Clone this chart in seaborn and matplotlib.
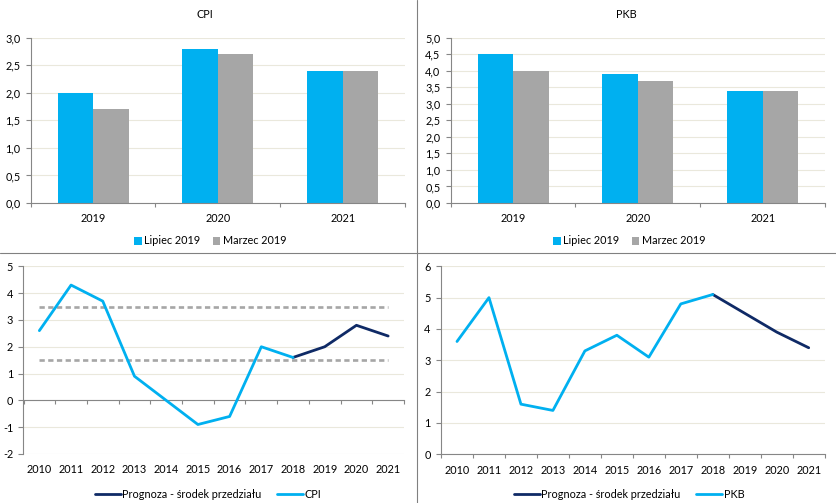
import matplotlib
matplotlib.use("Agg")
import matplotlib.pyplot as plt
from matplotlib.lines import Line2D
from matplotlib.ticker import FuncFormatter, FixedLocator
import seaborn as sns
import pandas as pd
import numpy as np

# ---------------- data ----------------
bar_years = ["2019", "2020", "2021"]
bar_series = ["Lipiec 2019", "Marzec 2019"]
cpi_lipiec = [2.0, 2.8, 2.4]
cpi_marzec = [1.7, 2.7, 2.4]
pkb_lipiec = [4.5, 3.9, 3.4]
pkb_marzec = [4.0, 3.7, 3.4]

hist_years = [2010, 2011, 2012, 2013, 2014, 2015, 2016, 2017, 2018]
cpi_hist = [2.6, 4.3, 3.7, 0.9, 0.0, -0.9, -0.6, 2.0, 1.6]
pkb_hist = [3.6, 5.0, 1.6, 1.4, 3.3, 3.8, 3.1, 4.8, 5.1]
fc_years = [2018, 2019, 2020, 2021]
cpi_fc = [1.6, 2.0, 2.8, 2.4]
pkb_fc = [5.1, 4.5, 3.9, 3.4]
all_years = [2010, 2011, 2012, 2013, 2014, 2015, 2016, 2017, 2018, 2019, 2020, 2021]
band_low = 1.5
band_high = 3.5
fc_label = "Prognoza - środek przedziału"

# ---------------- style ----------------
BLUE = "#00B0F0"
GRAY = "#A6A6A6"
NAVY = "#0F2A66"
GRID = "#EAE8DC"
SPINE = "#868686"
TXT = "#000000"
FS = 7.8

sns.set_theme(style="white")
plt.rcParams["font.family"] = ["Lato", "DejaVu Sans"]
plt.rcParams["font.size"] = FS

W, H = 837, 503
fig = plt.figure(figsize=(W / 100, H / 100), dpi=100)
fig.patch.set_facecolor("white")


def rect(l, r, t, b):
    return [l / W, (H - b) / H, (r - l) / W, (b - t) / H]


def style_axes(ax):
    for s in ["top", "right"]:
        ax.spines[s].set_visible(False)
    for s in ["left", "bottom"]:
        ax.spines[s].set_color(SPINE)
        ax.spines[s].set_linewidth(0.8)
    ax.grid(axis="y", color=GRID, linewidth=0.8)
    ax.grid(axis="x", visible=False)
    ax.set_axisbelow(True)
    ax.tick_params(axis="y", which="major", direction="out", length=3.4, width=0.8,
                   color=SPINE, labelsize=FS, labelcolor=TXT, pad=4, left=True)
    ax.set_xlabel("")
    ax.set_ylabel("")


comma1 = FuncFormatter(lambda v, p: f"{v:.1f}".replace(".", ","))
intfmt = FuncFormatter(lambda v, p: f"{int(round(v))}")


def bar_panel(box, lip, mar, ymax, title, title_x, leg_x):
    ax = fig.add_axes(rect(*box))
    df = pd.DataFrame({
        "year": bar_years * 2,
        "series": [bar_series[0]] * 3 + [bar_series[1]] * 3,
        "value": lip + mar,
    })
    sns.barplot(data=df, x="year", y="value", hue="series", hue_order=bar_series,
                palette=[BLUE, GRAY], width=0.57, saturation=1, ax=ax,
                linewidth=0, legend=True)
    handles, labels = ax.get_legend_handles_labels()
    if ax.get_legend() is not None:
        ax.get_legend().remove()
    style_axes(ax)
    ax.set_ylim(0, ymax)
    ax.set_yticks(np.arange(0, ymax + 0.01, 0.5))
    ax.yaxis.set_major_formatter(comma1)
    ax.set_xlim(-0.5, 2.5)
    ax.xaxis.set_minor_locator(FixedLocator([-0.5, 0.5, 1.5, 2.5]))
    ax.tick_params(axis="x", which="major", length=0, pad=7.5, labelsize=FS, labelcolor=TXT)
    ax.tick_params(axis="x", which="minor", direction="out", length=3.2, width=0.8,
                   color=SPINE, bottom=True)
    fig.text(title_x / W, 1 - 15 / H, title, ha="center", va="center", fontsize=FS, color=TXT)
    fig.legend(handles, labels, loc="center", bbox_to_anchor=(leg_x / W, 1 - 241 / H),
               ncol=2, frameon=False, fontsize=FS, handlelength=0.7, handleheight=0.7,
               handletextpad=0.2, columnspacing=1.2, labelcolor=TXT)
    return ax


def line_panel(box, hist, fc, name, ylim, leg_x, band=False):
    ax = fig.add_axes(rect(*box))
    df = pd.DataFrame({
        "year": fc_years + hist_years,
        "value": fc + hist,
        "series": [fc_label] * len(fc_years) + [name] * len(hist_years),
    })
    if band:
        ax.hlines([band_high, band_low], all_years[0], all_years[-1],
                  colors=GRAY, linestyles=(0, (2.0, 1.3)), linewidth=1.9, zorder=2)
    sns.lineplot(data=df, x="year", y="value", hue="series", hue_order=[fc_label, name],
                 palette=[NAVY, BLUE], linewidth=2.0, estimator=None, sort=True,
                 ax=ax, legend=True, zorder=3)
    handles, labels = ax.get_legend_handles_labels()
    if ax.get_legend() is not None:
        ax.get_legend().remove()
    style_axes(ax)
    ax.set_ylim(*ylim)
    ax.set_yticks(np.arange(ylim[0], ylim[1] + 0.01, 1))
    ax.yaxis.set_major_formatter(intfmt)
    ax.set_xlim(all_years[0] - 0.5, all_years[-1] + 0.5)
    bounds = [y - 0.5 for y in all_years] + [all_years[-1] + 0.5]
    ax.xaxis.set_minor_locator(FixedLocator(bounds))
    ax.tick_params(axis="x", which="minor", direction="out", length=3.2, width=0.8,
                   color=SPINE, bottom=True)
    if ylim[0] < 0:
        ax.spines["bottom"].set_position(("data", 0))
        ax.set_xticks(all_years)
        ax.tick_params(axis="x", which="major", length=0, labelbottom=False)
        sec = ax.secondary_xaxis(0)
        sec.set_xticks(all_years, labels=[str(y) for y in all_years])
        sec.tick_params(axis="x", length=0, pad=7.5, labelsize=FS, labelcolor=TXT)
        for s in sec.spines.values():
            s.set_visible(False)
    else:
        ax.set_xticks(all_years, labels=[str(y) for y in all_years])
        ax.tick_params(axis="x", which="major", length=0, pad=7.5, labelsize=FS, labelcolor=TXT)
    fig.legend(handles, labels, loc="center", bbox_to_anchor=(leg_x / W, 1 - 494 / H),
               ncol=2, frameon=False, fontsize=FS, handlelength=2.4,
               handletextpad=0.1, columnspacing=1.5, labelcolor=TXT)
    return ax


bar_panel((30.7, 405, 37.7, 203), cpi_lipiec, cpi_marzec, 3.0, "CPI", 205, 210)
bar_panel((450.7, 825, 37.7, 203), pkb_lipiec, pkb_marzec, 5.0, "PKB", 626, 629)
line_panel((23.5, 404, 266.3, 454), cpi_hist, cpi_fc, "CPI", (-2, 5), 208, band=True)
line_panel((441, 824.7, 266.3, 454.3), pkb_hist, pkb_fc, "PKB", (0, 6), 629)

# panel dividers
fig.add_artist(Line2D([417.5 / W, 417.5 / W], [0, 1], transform=fig.transFigure,
                      color="#808080", linewidth=0.8))
fig.add_artist(Line2D([0, 1], [1 - 252.5 / H, 1 - 252.5 / H], transform=fig.transFigure,
                      color="#808080", linewidth=0.8))

fig.savefig("out.png", dpi=100, facecolor="white")
